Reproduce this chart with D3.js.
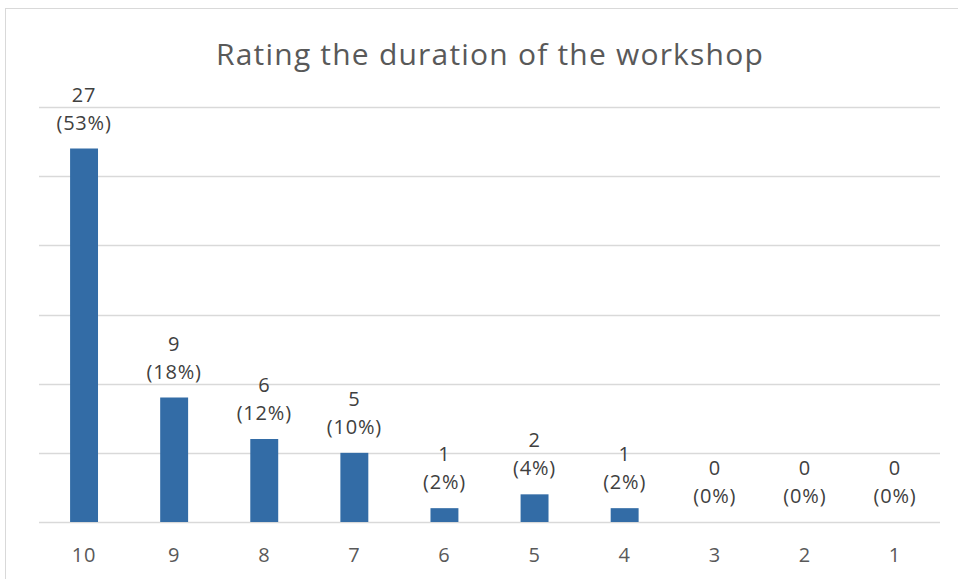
<!DOCTYPE html>
<html><head><meta charset="utf-8">
<script src="https://cdn.jsdelivr.net/npm/d3@7"></script>
<style>html,body{margin:0;padding:0;background:#fff;}svg{display:block;font-family:"Open Sans",Lato,sans-serif;}</style>
</head><body>
<svg id="c" width="958" height="579"></svg>
<script>
const categories = ["10","9","8","7","6","5","4","3","2","1"];
const counts = [27, 9, 6, 5, 1, 2, 1, 0, 0, 0];
const percents = ["53%","18%","12%","10%","2%","4%","2%","0%","0%","0%"];
const yTicks = [0,5,10,15,20,25,30];
const title = "Rating the duration of the workshop";

const svg = d3.select("#c");
const W = 958, H = 579;
const m = {left:39, right:18, top:107, bottom:57};
const x = d3.scaleBand().domain(categories).range([m.left, W - m.right]).paddingInner(0.69).paddingOuter(0.345);
const y = d3.scaleLinear().domain([0,30]).range([H - m.bottom, m.top]);

// chart border
svg.append("rect").attr("x",5.5).attr("y",8.5).attr("width",W+10).attr("height",H+10)
  .attr("fill","none").attr("stroke","#d9d9d9").attr("stroke-width",1);

// gridlines
svg.append("g").selectAll("line").data(yTicks).join("line")
  .attr("x1", m.left).attr("x2", W - m.right)
  .attr("y1", d => Math.round(y(d)) + 0.5).attr("y2", d => Math.round(y(d)) + 0.5)
  .attr("stroke","#d9d9d9").attr("stroke-width",1.5);

// title
svg.append("text").attr("x", 490).attr("y", 65).attr("text-anchor","middle")
  .attr("font-size", 30).attr("letter-spacing", 1.2).attr("fill","#595959").text(title);

// bars
const data = categories.map((c,i)=>({c, v:counts[i], p:percents[i]}));
svg.append("g").selectAll("rect").data(data).join("rect")
  .attr("x", d => x(d.c)).attr("width", x.bandwidth())
  .attr("y", d => y(d.v)).attr("height", d => y(0) - y(d.v))
  .attr("fill","#336ca6");

// labels
const lab = svg.append("g").attr("font-size",20).attr("letter-spacing",0.8).attr("fill","#404040").attr("text-anchor","middle");
lab.selectAll("text.v").data(data).join("text").attr("class","v")
  .attr("x", d => x(d.c) + x.bandwidth()/2).attr("y", d => y(d.v) - 47).text(d => d.v);
lab.selectAll("text.p").data(data).join("text").attr("class","p")
  .attr("x", d => x(d.c) + x.bandwidth()/2).attr("y", d => y(d.v) - 19).text(d => "(" + d.p + ")");

// x axis
const xa = svg.append("g").attr("transform", `translate(0,${y(0)})`)
  .call(d3.axisBottom(x).tickSize(0).tickPadding(0));
xa.select(".domain").remove();
xa.selectAll("text").attr("dy", null).attr("y", 40).attr("font-size",20).attr("letter-spacing",0.8)
  .attr("fill","#595959").attr("font-family","'Open Sans',Lato,sans-serif");
</script>
</body></html>
